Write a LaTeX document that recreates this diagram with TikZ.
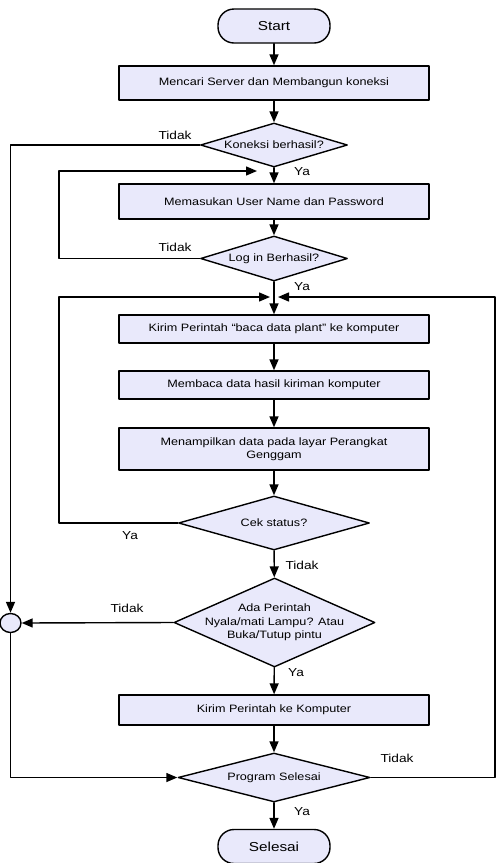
\documentclass[tikz,border=0pt]{standalone}
\usepackage{fontspec}
\setmainfont{Liberation Sans}[FakeStretch=1.18]
\usetikzlibrary{arrows.meta,shapes.geometric}
\definecolor{boxfill}{RGB}{233,233,251}

\begin{document}
\begin{tikzpicture}[line cap=round,line join=round,>={Triangle[length=11pt,width=9pt]},x=1pt,y=-1pt,
  every node/.style={font=\fontsize{10.7}{13.5}\selectfont},
  term/.style={draw,line width=1.4pt,fill=boxfill,rounded corners=16pt,minimum width=112pt,minimum height=34pt,font=\fontsize{13}{15}\selectfont},
  proc/.style={draw,line width=1.4pt,fill=boxfill,minimum width=310pt,inner sep=0pt,align=center},
  cond/.style={draw,diamond,line width=1.4pt,fill=boxfill,inner sep=0pt,align=center},
  lbl/.style={font=\fontsize{11.6}{13}\selectfont},
  flow/.style={line width=1.4pt,->}]
\useasboundingbox (0,0) rectangle (496,863);
% nodes
\node[term] (start) at (274,26) {Start};
\node[proc,minimum height=34pt] (b1) at (274,83) {Mencari Server dan Membangun koneksi};
\node[cond,aspect=3.34,minimum width=147pt,minimum height=44pt] (d1) at (274,145) {Koneksi berhasil?};
\node[proc,minimum height=35pt] (b2) at (274,201.5) {Memasukan User Name dan Password};
\node[cond,aspect=3.27,minimum width=147pt,minimum height=45pt] (d2) at (274,258.5) {Log in Berhasil?};
\node[proc,minimum height=28pt] (b3) at (274,329) {Kirim Perintah “baca data plant” ke komputer};
\node[proc,minimum height=28pt] (b4) at (274,385) {Membaca data hasil kiriman komputer};
\node[proc,minimum height=42pt] (b5) at (274,449) {Menampilkan data pada layar Perangkat\\Genggam};
\node[cond,aspect=3.54,minimum width=191pt,minimum height=54pt] (cek) at (274,523) {Cek status?};
\node[cond,aspect=2.26,minimum width=201pt,minimum height=89pt,inner xsep=-10pt,inner ysep=-5pt] (d5) at (274.5,622.5) {Ada Perintah\\Nyala/mati Lampu? Atau\\Buka/Tutup pintu};
\node[proc,minimum height=30pt] (b6) at (274,710) {Kirim Perintah ke Komputer};
\node[cond,aspect=3.92,minimum width=192pt,minimum height=49pt] (d6) at (274,777.5) {Program Selesai};
\node[term] (stop) at (274,846.5) {Selesai};
\node[draw,ellipse,line width=1.4pt,fill=boxfill,minimum width=21pt,minimum height=19pt,inner sep=0pt] (circ) at (10.5,623) {};
% helper points
\coordinate (m1) at (257,171);
\coordinate (m2l) at (270,297);
\coordinate (m2r) at (278,297);
\coordinate (lft) at (59,0);
\coordinate (rgt) at (495,0);
% main line
\draw[flow] (start) -- (b1);
\draw[flow] (b1) -- (d1);
\draw[flow] (d1) -- (b2);
\draw[flow] (b2) -- (d2);
\draw[flow] (d2) -- (b3);
\draw[flow] (b3) -- (b4);
\draw[flow] (b4) -- (b5);
\draw[flow] (b5) -- (cek);
\draw[flow] (cek) -- (d5);
\draw[flow] (d5) -- (b6);
\draw[flow] (b6) -- (d6);
\draw[flow] (d6) -- (stop);
% loops
\draw[flow] (d2.west) -| (lft |- m1) -- (m1);
\draw[flow] (cek.west) -| (lft |- m2l) -- (m2l);
\draw[flow] (d6.east) -| (rgt |- m2r) -- (m2r);
\draw[flow] (d1.west) -| (circ.north);
\draw[flow] (d5.west) -- (circ.east);
\draw[flow] (circ.south) |- (d6.west);
% labels
\node[lbl] (t1) at (175,135) {Tidak};
\node[lbl] (y1) at (302,172) {Ya};
\node[lbl] (t2) at (175,247) {Tidak};
\node[lbl] (y2) at (302,287) {Ya};
\node[lbl] (y3) at (130,536) {Ya};
\node[lbl] (t3) at (302,565) {Tidak};
\node[lbl] (t4) at (127,608) {Tidak};
\node[lbl] (y4) at (296,673) {Ya};
\node[lbl] (t5) at (397,758) {Tidak};
\node[lbl] (y5) at (302,812) {Ya};
\end{tikzpicture}
\end{document}
